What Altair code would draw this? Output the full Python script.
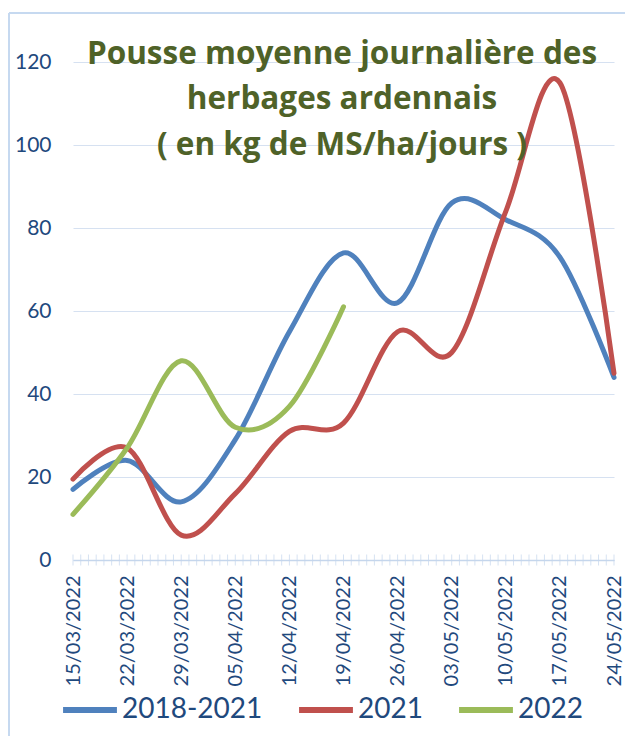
import altair as alt
import pandas as pd

dates = ["2022-03-15", "2022-03-22", "2022-03-29", "2022-04-05", "2022-04-12", "2022-04-19",
         "2022-04-26", "2022-05-03", "2022-05-10", "2022-05-17", "2022-05-24"]
serie_2018_2021 = [17, 24, 14, 29, 55, 74, 62, 86, 82, 73, 44]
serie_2021 = [19.5, 27, 6, 16, 31, 33, 55, 50, 84, 115, 45]
serie_2022 = [11, 27, 48, 32, 37, 61]
series_names = ["2018-2021", "2021", "2022"]
series_colors = ["#4F81BD", "#C0504D", "#9BBB59"]
y_ticks = [0, 20, 40, 60, 80, 100, 120]
title_lines = ["Pousse moyenne journalière des", "herbages ardennais", "( en kg de MS/ha/jours )"]

rows = []
for name, vals in zip(series_names, [serie_2018_2021, serie_2021, serie_2022]):
    for d, v in zip(dates, vals):
        rows.append({"date": d, "valeur": v, "serie": name})
df = pd.DataFrame(rows)

days = pd.DataFrame({"date": pd.date_range(dates[0], dates[-1], freq="D").strftime("%Y-%m-%d")})

def dt(s):
    y, m, d = s.split("-")
    return alt.DateTime(year=int(y), month=int(m), date=int(d), utc=True)

FONT = "Lato"
TITLE_FONT = "Open Sans"
LABEL_COLOR = "#1F497D"
GRID = "#D6E1F1"

xscale = alt.Scale(type="utc", domain=[dt(dates[0]), dt(dates[-1])])

lines = alt.Chart(df).mark_line(strokeWidth=5, interpolate="cardinal", tension=0, strokeCap="round").encode(
    x=alt.X("date:T", scale=xscale,
            axis=alt.Axis(values=[dt(d) for d in dates], labelExpr="utcFormat(datum.value, '%d/%m/%Y')",
                          labelAngle=270, labelFont=FONT, labelFontSize=20, labelColor=LABEL_COLOR,
                          labelPadding=15, ticks=False, grid=False, domainColor="#C5D6EC", domainWidth=1.5,
                          title=None, labelOverlap=False)),
    y=alt.Y("valeur:Q", scale=alt.Scale(domain=[0, 120], nice=False),
            axis=alt.Axis(values=y_ticks, labelFont=FONT, labelFontSize=21, labelColor=LABEL_COLOR,
                          labelPadding=22, ticks=False, domain=False, gridColor=GRID, gridWidth=1.2,
                          title=None)),
    color=alt.Color("serie:N", sort=series_names,
                    scale=alt.Scale(domain=series_names, range=series_colors),
                    legend=alt.Legend(title=None, orient="none", direction="horizontal",
                                      legendX=-13, legendY=618, symbolType="stroke",
                                      symbolSize=2900, symbolStrokeWidth=6, labelFont=FONT,
                                      labelFontSize=28, labelColor=LABEL_COLOR, columnPadding=24,
                                      labelOffset=2)),
    order=alt.Order("date:T"),
)

ticks = alt.Chart(days).mark_tick(color="#C5D6EC", size=11, thickness=1).encode(
    x=alt.X("date:T", scale=xscale),
    y=alt.value(498),
)

title_layers = []
for i, (line, ypos) in enumerate(zip(title_lines, [2, 47, 93])):
    title_layers.append(
        alt.Chart(pd.DataFrame({"t": [line]})).mark_text(
            font=TITLE_FONT, fontSize=31.5, fontWeight="bold", color="#4F6228", align="center", baseline="alphabetic"
        ).encode(text="t:N", x=alt.value(269), y=alt.value(ypos))
    )

one = pd.DataFrame({"a": [0]})
border_left = alt.Chart(one).mark_rule(color="#C6D9F0", strokeWidth=2).encode(
    x=alt.value(-64), y=alt.value(-49), y2=alt.value(720))
border_top = alt.Chart(one).mark_rule(color="#C6D9F0", strokeWidth=2).encode(
    x=alt.value(-64), x2=alt.value(560), y=alt.value(-49))

chart = alt.layer(border_left, border_top, ticks, lines, *title_layers).properties(
    width=541, height=498,
    autosize=alt.AutoSizeParams(type="none"),
    padding={"left": 65, "top": 54, "right": 11, "bottom": 176},
).configure_view(stroke=None)

chart.save("out.html", embed_options={"renderer": "svg", "actions": False})
